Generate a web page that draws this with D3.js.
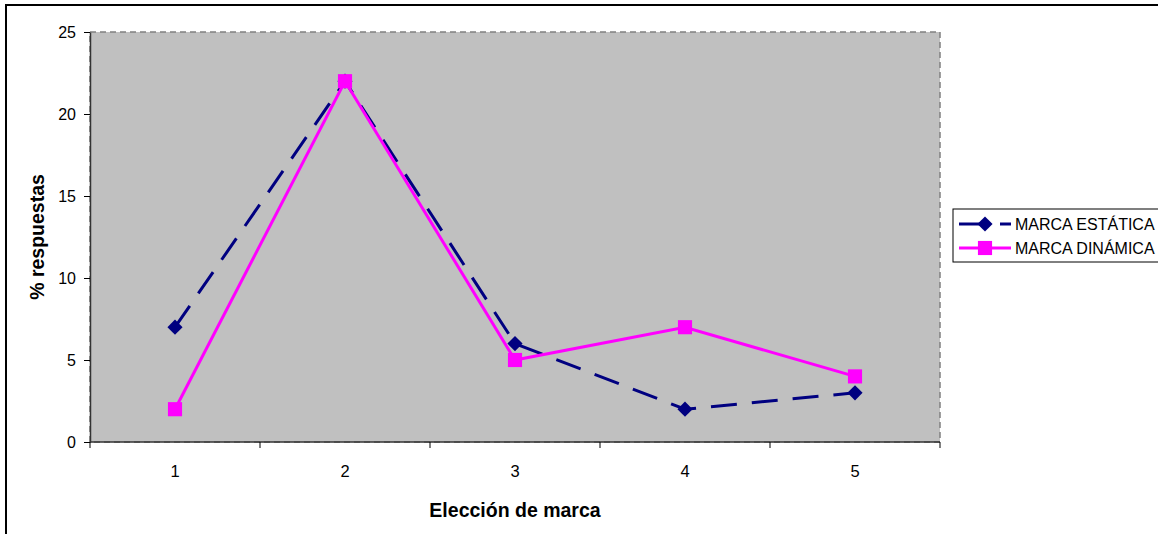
<!DOCTYPE html>
<html>
<head>
<meta charset="utf-8">
<script src="https://cdn.jsdelivr.net/npm/d3@7"></script>
<style>
  body { margin: 0; background: #fff; }
  svg { display: block; font-family: "Liberation Sans", Arial, sans-serif; }
</style>
</head>
<body>
<div id="chart"></div>
<script>
const categories = ["1", "2", "3", "4", "5"]
const series_names = ["MARCA ESTÁTICA", "MARCA DINÁMICA"]
const static_values = [7, 22, 6, 2, 3]
const dynamic_values = [2, 22, 5, 7, 4]
const y_ticks = [0, 5, 10, 15, 20, 25]

const W = 1158, H = 534
const plot = {left: 90, top: 32, right: 940, bottom: 442}

const svg = d3.select("#chart").append("svg")
    .attr("width", W)
    .attr("height", H)

// outer chart frame (runs past the window on right/bottom)
svg.append("rect")
    .attr("x", 6).attr("y", 5)
    .attr("width", W + 20).attr("height", H + 20)
    .attr("fill", "#fff")
    .attr("stroke", "#000")
    .attr("stroke-width", 2)

const x = d3.scaleBand()
    .domain(categories)
    .range([plot.left, plot.right])

const y = d3.scaleLinear()
    .domain([0, 25])
    .range([plot.bottom, plot.top])

// plot area
svg.append("rect")
    .attr("x", plot.left).attr("y", plot.top)
    .attr("width", plot.right - plot.left)
    .attr("height", plot.bottom - plot.top)
    .attr("fill", "#c0c0c0")
    .attr("stroke", "#808080")
    .attr("stroke-width", 1.5)
    .attr("stroke-dasharray", "6,4")

// y axis
const yAxis = svg.append("g")
    .attr("transform", "translate(" + plot.left + ",0)")
    .call(d3.axisLeft(y)
        .tickValues(y_ticks)
        .tickSizeInner(6)
        .tickSizeOuter(0)
        .tickPadding(8))
yAxis.attr("font-size", null).attr("font-family", null)
yAxis.selectAll("text").style("font-size", "16px").attr("fill", "#000")
yAxis.selectAll("line").attr("stroke", "#000")
yAxis.select(".domain").attr("stroke", "#333").attr("stroke-width", 1.5)

// x axis: ticks at category boundaries, labels at centres
const xAxis = svg.append("g")
    .attr("transform", "translate(0," + plot.bottom + ")")
xAxis.append("line")
    .attr("x1", plot.left).attr("x2", plot.right)
    .attr("stroke", "#333").attr("stroke-width", 1.5)
const bounds = categories.map(c => x(c)).concat([x(categories[categories.length - 1]) + x.bandwidth()])
xAxis.selectAll(".xtick")
    .data(bounds)
    .enter().append("line")
    .attr("x1", d => d).attr("x2", d => d)
    .attr("y1", 0).attr("y2", 6)
    .attr("stroke", "#000")
xAxis.selectAll(".xlabel")
    .data(categories)
    .enter().append("text")
    .attr("x", d => x(d) + x.bandwidth() / 2)
    .attr("y", 35)
    .attr("text-anchor", "middle")
    .style("font-size", "16.5px")
    .text(d => d)

// axis titles
svg.append("text")
    .attr("x", (plot.left + plot.right) / 2)
    .attr("y", 517)
    .attr("text-anchor", "middle")
    .style("font-size", "19.5px")
    .attr("font-weight", "bold")
    .text("Elección de marca")

svg.append("text")
    .attr("transform", "translate(44," + ((plot.top + plot.bottom) / 2) + ") rotate(-90)")
    .attr("text-anchor", "middle")
    .style("font-size", "19.5px")
    .attr("font-weight", "bold")
    .text("% respuestas")

const cx = d => x(categories[d.i]) + x.bandwidth() / 2
const line = d3.line().x(cx).y(d => y(d.v))
const diamond = d3.symbol().type(d3.symbolSquare).size(115)
const square = d3.symbol().type(d3.symbolSquare).size(200)

const static_pts = static_values.map((v, i) => ({i: i, v: v}))
const dynamic_pts = dynamic_values.map((v, i) => ({i: i, v: v}))

// static series
svg.append("path")
    .datum(static_pts)
    .attr("fill", "none")
    .attr("stroke", "#000080")
    .attr("stroke-width", 3)
    .attr("stroke-dasharray", "26,15")
    .attr("d", line)
svg.selectAll(".dot_static")
    .data(static_pts)
    .enter().append("path")
    .attr("transform", d => "translate(" + cx(d) + "," + y(d.v) + ") rotate(45)")
    .attr("d", diamond)
    .attr("fill", "#000080")

// dynamic series
svg.append("path")
    .datum(dynamic_pts)
    .attr("fill", "none")
    .attr("stroke", "#ff00ff")
    .attr("stroke-width", 3)
    .attr("d", line)
svg.selectAll(".dot_dynamic")
    .data(dynamic_pts)
    .enter().append("path")
    .attr("transform", d => "translate(" + cx(d) + "," + y(d.v) + ")")
    .attr("d", square)
    .attr("fill", "#ff00ff")

// legend
const legend = svg.append("g").attr("transform", "translate(953,209)")
legend.append("rect")
    .attr("width", 220).attr("height", 53)
    .attr("fill", "#fff")
    .attr("stroke", "#000")
    .attr("stroke-width", 1)
const rows = [
    {name: series_names[0], color: "#000080", dash: "31,10,12", mark: diamond, rot: 45},
    {name: series_names[1], color: "#ff00ff", dash: null, mark: square, rot: 0}
]
rows.forEach((r, k) => {
    const yy = 15 + k * 24
    legend.append("line")
        .attr("x1", 6).attr("x2", 58)
        .attr("y1", yy).attr("y2", yy)
        .attr("stroke", r.color)
        .attr("stroke-width", 3)
        .attr("stroke-dasharray", r.dash)
    legend.append("path")
        .attr("transform", "translate(32," + yy + ") rotate(" + r.rot + ")")
        .attr("d", r.mark)
        .attr("fill", r.color)
    legend.append("text")
        .attr("x", 62).attr("y", yy + 5.5)
        .style("font-size", "16px")
        .text(r.name)
})
</script>
</body>
</html>
